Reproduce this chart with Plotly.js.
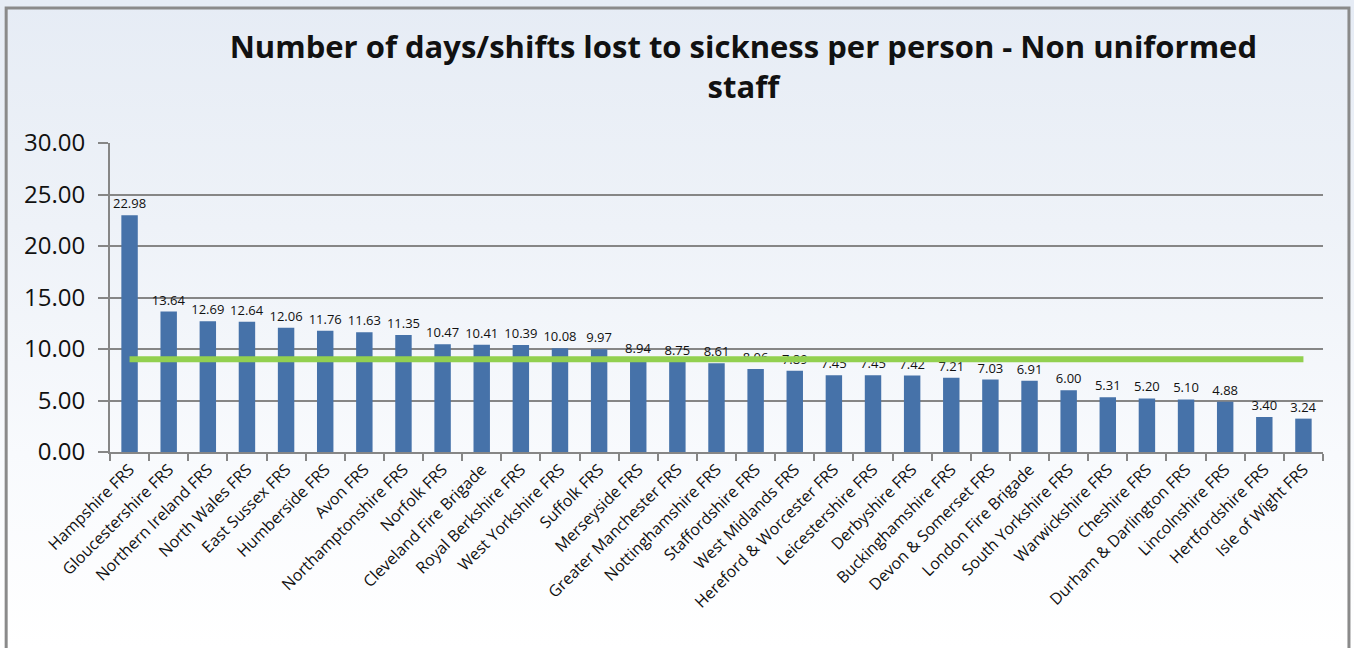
<!DOCTYPE html>
<html>
<head>
<meta charset="utf-8">
<script src="https://cdn.plot.ly/plotly-3.0.1.min.js"></script>
<style>
  html, body { margin: 0; padding: 0; background: #ffffff; }
  #chart {
    width: 1354px; height: 648px;
    background: linear-gradient(to bottom, #E6ECF5 0%, #EEF2F8 35%, #F8FAFD 70%, #FFFFFF 100%);
  }
</style>
</head>
<body>
<div id="chart"></div>
<script>
const categories = [
  "Hampshire FRS", "Gloucestershire FRS", "Northern Ireland FRS", "North Wales FRS",
  "East Sussex FRS", "Humberside FRS", "Avon FRS", "Northamptonshire FRS",
  "Norfolk FRS", "Cleveland Fire Brigade", "Royal Berkshire FRS", "West Yorkshire FRS",
  "Suffolk FRS", "Merseyside FRS", "Greater Manchester FRS", "Nottinghamshire FRS",
  "Staffordshire FRS", "West Midlands FRS", "Hereford & Worcester FRS", "Leicestershire FRS",
  "Derbyshire FRS", "Buckinghamshire FRS", "Devon & Somerset FRS", "London Fire Brigade",
  "South Yorkshire FRS", "Warwickshire FRS", "Cheshire FRS", "Durham & Darlington FRS",
  "Lincolnshire FRS", "Hertfordshire FRS", "Isle of Wight FRS"
];
const daysLost = [
  22.98, 13.64, 12.69, 12.64, 12.06, 11.76, 11.63, 11.35,
  10.47, 10.41, 10.39, 10.08, 9.97, 8.94, 8.75, 8.61,
  8.06, 7.89, 7.45, 7.45, 7.42, 7.21, 7.03, 6.91,
  6.00, 5.31, 5.20, 5.10, 4.88, 3.40, 3.24
];
const averageLine = [
  9.0, 9.0, 9.0, 9.0, 9.0, 9.0, 9.0, 9.0,
  9.0, 9.0, 9.0, 9.0, 9.0, 9.0, 9.0, 9.0,
  9.0, 9.0, 9.0, 9.0, 9.0, 9.0, 9.0, 9.0,
  9.0, 9.0, 9.0, 9.0, 9.0, 9.0, 9.0
];
const yTicks = [0, 5, 10, 15, 20, 25, 30];
const titleText = "Number of days/shifts lost to sickness per person - Non uniformed<br>staff";

const FONT = "Open Sans, Lato, sans-serif";

const traces = [
  {
    type: "bar",
    x: categories,
    y: daysLost,
    marker: { color: "#4672A9" },
    text: daysLost.map(v => v.toFixed(2)),
    textposition: "outside",
    constraintext: "none",
    textfont: { family: FONT, size: 13, color: "#111111" },
    cliponaxis: false,
    hoverinfo: "x+y",
    showlegend: false
  },
  {
    type: "scatter",
    mode: "lines",
    x: categories,
    y: averageLine,
    line: { color: "#92D050", width: 6 },
    hoverinfo: "y",
    showlegend: false
  }
];

const layout = {
  width: 1354,
  height: 648,
  margin: { l: 110, r: 31, t: 143, b: 196 },
  paper_bgcolor: "rgba(0,0,0,0)",
  plot_bgcolor: "rgba(0,0,0,0)",
  bargap: 0.58,
  title: {
    text: titleText,
    font: { family: FONT, size: 31, color: "#111111", weight: "bold" },
    x: 0.549,
    xanchor: "center",
    xref: "container",
    y: 0.911,
    yanchor: "top",
    yref: "container"
  },
  xaxis: {
    type: "category",
    tickangle: -45,
    tickfont: { family: FONT, size: 16, color: "#111111" },
    showgrid: false,
    ticks: "outside",
    tickson: "boundaries",
    ticklen: 7,
    tickwidth: 2,
    tickcolor: "#868686",
    showline: true,
    linecolor: "#868686",
    linewidth: 2,
    automargin: false
  },
  yaxis: {
    range: [0, 30],
    tickvals: yTicks,
    tickformat: ".2f",
    tickfont: { family: FONT, size: 24, color: "#111111" },
    ticklabelstandoff: 8,
    showgrid: true,
    gridcolor: "#868686",
    gridwidth: 2,
    zeroline: false,
    showline: true,
    linecolor: "#868686",
    linewidth: 2,
    ticks: "outside",
    ticklen: 10,
    tickwidth: 2,
    tickcolor: "#868686",
    automargin: false
  },
  shapes: [
    {
      type: "rect",
      xref: "paper", yref: "paper",
      x0: -0.0856, x1: 1.0214, y0: -0.7, y1: 1.437,
      line: { color: "#8A8A8A", width: 3 },
      fillcolor: "rgba(0,0,0,0)",
      layer: "below"
    }
  ]
};

Plotly.newPlot("chart", traces, layout, { displayModeBar: false, responsive: false });
</script>
</body>
</html>
